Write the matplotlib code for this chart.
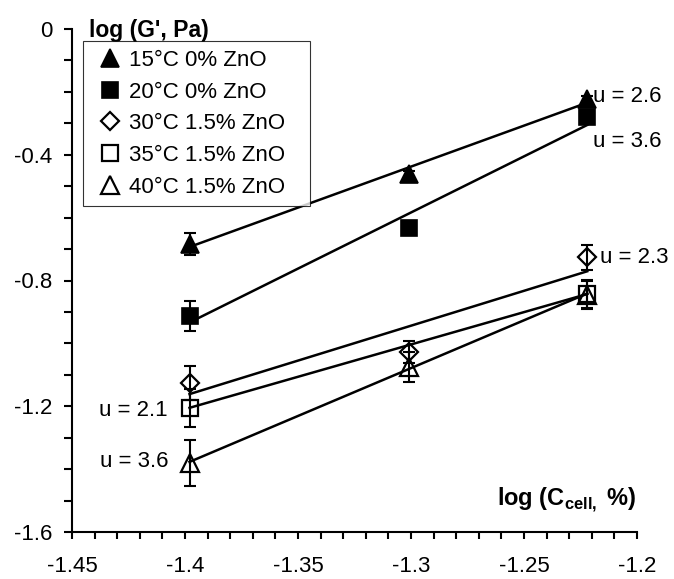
import matplotlib.pyplot as plt
import numpy as np
from matplotlib.lines import Line2D
from matplotlib.ticker import MultipleLocator, FuncFormatter

plt.rcParams['font.family'] = ['Liberation Sans', 'DejaVu Sans']
plt.rcParams['axes.unicode_minus'] = False
plt.rcParams['mathtext.fontset'] = 'custom'
plt.rcParams['mathtext.rm'] = 'Liberation Sans'
plt.rcParams['mathtext.bf'] = 'Liberation Sans:bold'

# ── data ─────────────────────────────────────────────────
log_c = [-1.398, -1.301, -1.222]

series_labels = ['15°C 0% ZnO', '20°C 0% ZnO', '30°C 1.5% ZnO',
                 '35°C 1.5% ZnO', '40°C 1.5% ZnO']

g_15 = [-0.684, -0.461, -0.223]
g_20 = [-0.913, -0.633, -0.280]
g_30 = [-1.125, -1.027, -0.726]
g_35 = [-1.205, np.nan, -0.843]
g_40 = [-1.380, -1.075, -0.845]

err_15 = [0.035, 0.010, 0.010]
err_20 = [0.048, 0.022, 0.020]
err_30 = [0.054, 0.035, 0.040]
err_35 = [0.060, 0.0, 0.045]
err_40 = [0.073, 0.048, 0.045]

u_text = ['u = 2.6', 'u = 3.6', 'u = 2.3', 'u = 2.1', 'u = 3.6']
u_x = [-1.2195, -1.2195, -1.2165, -1.4075, -1.4075]
u_y = [-0.216, -0.359, -0.728, -1.212, -1.377]
u_ha = ['left', 'left', 'left', 'right', 'right']

x_ticks = [-1.45, -1.4, -1.35, -1.3, -1.25, -1.2]
y_ticks = [-1.6, -1.2, -0.8, -0.4, 0]

# ── styles ───────────────────────────────────────────────
styles = [
    dict(marker='^', ms=12.5, mfc='black', mew=1.2),
    dict(marker='s', ms=12, mfc='black', mew=1.2),
    dict(marker='D', ms=9, mfc='none', mew=1.6),
    dict(marker='s', ms=11.5, mfc='none', mew=1.6),
    dict(marker='^', ms=12.5, mfc='none', mew=1.6),
]
values = [g_15, g_20, g_30, g_35, g_40]
errors = [err_15, err_20, err_30, err_35, err_40]

fig = plt.figure(figsize=(6.74, 5.79), dpi=100)
ax = fig.add_axes([72 / 674, 47 / 579, 565 / 674, 503 / 579])

x = np.array(log_c)
handles = []
for vals, errs, st, lab in zip(values, errors, styles, series_labels):
    y = np.array(vals, dtype=float)
    e = np.array(errs, dtype=float)
    ax.errorbar(x, y, yerr=e, fmt='none', ecolor='black', elinewidth=1.5,
                capsize=4.5, capthick=1.5, zorder=2)
    ax.plot(x, y, linestyle='none', color='black', mec='black', zorder=3, **st)
    ok = ~np.isnan(y)
    k, b = np.polyfit(x[ok], y[ok], 1)
    xs = np.array([x[ok].min(), x[ok].max()])
    ax.plot(xs, k * xs + b, color='black', lw=1.8, zorder=4)
    handles.append(Line2D([], [], linestyle='none', color='black',
                          mec='black', label=lab, **st))

for t, tx, ty, ha in zip(u_text, u_x, u_y, u_ha):
    ax.text(tx, ty, t, ha=ha, va='center', fontsize=16)

ax.set_xlim(-1.45, -1.2)
ax.set_ylim(-1.6, 0)
ax.set_xticks(x_ticks)
ax.set_yticks(y_ticks)
ax.xaxis.set_minor_locator(MultipleLocator(0.01))
ax.yaxis.set_minor_locator(MultipleLocator(0.1))
fmt = FuncFormatter(lambda v, _: f"{round(v, 2):g}")
ax.xaxis.set_major_formatter(fmt)
ax.yaxis.set_major_formatter(fmt)

for side in ('top', 'right'):
    ax.spines[side].set_visible(False)
for side in ('left', 'bottom'):
    ax.spines[side].set_linewidth(1.5)

ax.tick_params(which='both', direction='out', width=1.5, labelsize=16)
ax.tick_params(axis='x', which='both', length=5, pad=12)
ax.tick_params(axis='y', which='both', length=6, pad=8)

ax.text(0.030, 0.997, "log (G', Pa)", transform=ax.transAxes,
        ha='left', va='center', fontsize=16.5, fontweight='bold')
ax.text(1.0, 0.064, r"log (C$_{\mathbf{cell,}}$ %)", transform=ax.transAxes,
        ha='right', va='center', fontsize=17, fontweight='bold')

# legend box: x 83..310 px, top at 41 px
leg_top = 491 / 503
leg = ax.legend(handles=handles, loc='upper left', mode='expand',
                bbox_to_anchor=(11 / 565, 0.5, 227 / 565, leg_top - 0.5),
                borderaxespad=0, fontsize=16, frameon=True, fancybox=False,
                handlelength=1.6, handletextpad=0.05, labelspacing=0.48,
                borderpad=0.4)
leg.get_frame().set_edgecolor('black')
leg.get_frame().set_linewidth(0.8)

fig.savefig('out.png', dpi=100)
